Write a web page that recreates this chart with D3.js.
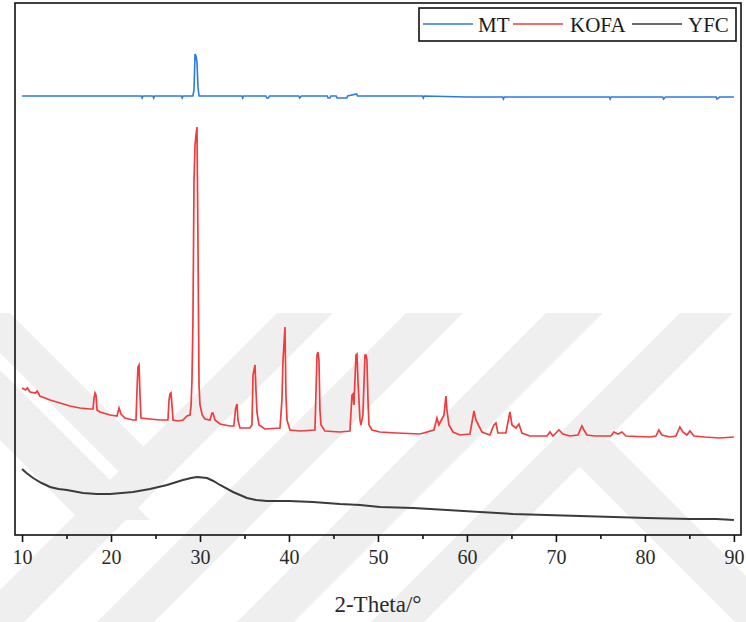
<!DOCTYPE html>
<html>
<head>
<meta charset="utf-8">
<script src="https://cdn.jsdelivr.net/npm/d3@7"></script>
<style>
  html, body { margin: 0; padding: 0; background: #fff; }
  svg { display: block; }
</style>
</head>
<body>
<svg id="chart" width="746" height="622"></svg>
<script>
// XRD patterns: [2θ (degrees), intensity (a.u., stacked offsets included)]
const mtPattern = [
  [10, 439], [23.4, 439], [23.5, 437], [23.6, 439], [24.7, 439], [24.8, 437], [24.9, 439],
  [27.9, 439], [28.0, 437], [28.1, 439], [29.2, 439], [29.33, 445], [29.44, 481], [29.55, 479],
  [29.66, 473], [29.78, 447], [29.9, 439], [34.7, 439], [34.8, 437], [34.9, 439], [37.4, 439],
  [37.5, 437], [37.7, 437], [37.8, 439], [41.1, 439], [41.2, 437], [41.4, 439], [44.3, 439],
  [44.4, 437], [44.6, 437], [44.7, 439], [45.3, 439], [45.4, 437], [46.5, 437], [46.6, 439],
  [47.6, 441], [47.7, 439], [55.0, 439], [55.1, 437], [55.2, 439], [60.0, 438], [64.0, 438],
  [64.1, 436], [64.2, 438], [70.0, 438], [76.0, 438], [76.1, 436], [76.2, 438], [82.0, 438],
  [82.1, 436], [82.3, 438], [88.0, 438], [88.1, 436], [88.4, 438], [90, 438]
];

const kofaPattern = [
  [10, 147], [10.4, 145], [10.6, 147], [10.9, 143], [11.5, 142], [11.7, 144], [12.0, 139],
  [13.15, 135], [14.27, 132], [15.39, 129], [16.5, 127], [17.64, 126], [17.98, 126],
  [18.09, 137], [18.2, 142], [18.31, 140], [18.43, 125], [18.76, 123], [19.89, 120],
  [20.67, 119], [20.9, 127], [21.12, 121], [21.57, 117], [22.47, 115], [22.81, 115],
  [22.92, 145], [23.03, 168], [23.15, 170], [23.26, 140], [23.37, 117], [24.38, 116],
  [25.5, 115], [26.4, 115], [26.52, 135], [26.63, 141], [26.74, 142], [26.85, 130],
  [26.97, 115], [27.53, 114], [28.09, 115], [28.54, 119], [28.88, 120], [29.0, 130],
  [29.1, 155], [29.21, 215], [29.33, 355], [29.44, 390], [29.55, 400], [29.66, 408],
  [29.78, 285], [29.89, 150], [30.0, 130], [30.25, 120], [30.56, 116], [31.12, 115],
  [31.35, 122], [31.46, 122], [31.69, 115], [32.25, 111], [33.37, 109], [33.8, 109],
  [34.0, 126], [34.16, 131], [34.27, 115], [34.49, 107], [35.6, 107], [35.84, 110],
  [35.96, 160], [36.18, 170], [36.29, 145], [36.4, 123], [36.63, 110], [37.3, 106],
  [38.99, 107], [39.21, 135], [39.33, 175], [39.55, 208], [39.66, 140], [39.78, 115],
  [40.11, 105], [41.24, 104], [42.92, 105], [43.15, 180], [43.26, 183], [43.37, 175],
  [43.48, 125], [43.6, 110], [44.04, 104], [45.73, 103], [46.85, 104], [47.08, 140],
  [47.19, 141], [47.3, 130], [47.53, 180], [47.64, 181], [47.75, 155], [47.98, 115],
  [48.09, 110], [48.31, 120], [48.54, 180], [48.65, 180], [48.76, 175], [48.88, 135],
  [48.99, 110], [49.33, 105], [50.22, 103], [52.13, 102], [54.72, 101], [56.29, 105],
  [56.63, 117], [56.85, 110], [57.42, 120], [57.64, 139], [57.75, 125], [57.98, 110],
  [58.43, 103], [59.21, 100], [60.34, 101], [60.79, 124], [61.01, 115], [61.35, 109],
  [61.69, 103], [62.58, 100], [63.03, 110], [63.26, 112], [63.48, 102], [64.38, 102],
  [64.83, 123], [65.06, 110], [65.51, 107], [65.84, 111], [66.18, 102], [67.08, 99],
  [68.99, 99], [69.33, 103], [69.66, 99], [70.34, 105], [70.79, 101], [71.57, 99],
  [72.47, 100], [72.92, 109], [73.15, 105], [73.48, 100], [74.38, 99], [76.18, 99],
  [76.52, 103], [76.97, 101], [77.42, 103], [77.87, 99], [80.56, 98], [81.24, 99],
  [81.57, 105], [81.91, 100], [82.81, 98], [83.48, 99], [83.93, 108], [84.27, 103],
  [84.72, 100], [85.06, 104], [85.51, 99], [86.74, 98], [88.43, 97], [90, 98]
];

const yfcPattern = [
  [10, 66], [10.5, 62], [11.24, 57], [12.2, 52], [13.15, 48], [14.1, 46], [15.06, 45],
  [16.85, 42], [18.4, 41], [19.89, 41], [21.2, 42], [22.47, 43], [24.38, 46], [26.29, 50],
  [28.09, 55], [29.0, 57], [29.66, 58], [30.79, 57], [31.5, 54], [32.25, 50], [33.71, 43],
  [35.28, 37], [36.3, 35], [37.53, 34], [40.0, 34], [42.7, 33], [45.73, 31], [48.0, 30],
  [50.22, 28], [54.0, 27], [57.75, 25], [61.5, 23], [65.17, 21], [68.9, 20], [72.7, 19],
  [76.5, 18], [80.22, 17], [85.06, 16], [88.0, 16], [90, 15]
];

const seriesNames = ["MT", "KOFA", "YFC"];
const seriesColors = ["#2c7be5", "#f03c3c", "#3b3b3b"];
const xTickValues = [10, 20, 30, 40, 50, 60, 70, 80, 90];
const xMinorTicks = [15, 25, 35, 45, 55, 65, 75, 85];
const xTitle = "2-Theta/°";

const serif = "'Liberation Serif', 'Times New Roman', serif";
const svg = d3.select("#chart");
const plot = { left: 15, right: 741, top: 3, bottom: 535 };

// faint diagonal backdrop bands
const bands = [
  { d: "/", a: 590, b: 646, y0: 313, y1: 622 },
  { d: "/", a: 719, b: 776, y0: 313, y1: 622 },
  { d: "/", a: 859, b: 916, y0: 313, y1: 622 },
  { d: "/", a: 993, b: 1046, y0: 313, y1: 622 },
  { d: "\\", a: -353, b: -303, y0: 313, y1: 475 },
  { d: "\\", a: -440, b: -370, y0: 357, y1: 520 },
  { d: "\\", a: 113, b: 170, y0: 440, y1: 622 }
];
svg.append("g").selectAll("polygon").data(bands).join("polygon")
  .attr("fill", "#efefef")
  .attr("points", b => {
    const p = b.d === "/"
      ? [[b.a - b.y0, b.y0], [b.b - b.y0, b.y0], [b.b - b.y1, b.y1], [b.a - b.y1, b.y1]]
      : [[b.a + b.y0, b.y0], [b.b + b.y0, b.y0], [b.b + b.y1, b.y1], [b.a + b.y1, b.y1]];
    return p.map(q => q.join(",")).join(" ");
  });

const x = d3.scaleLinear().domain([9.21, 90.8]).range([plot.left, plot.right]);
const y = d3.scaleLinear().domain([0, 532]).range([plot.bottom, plot.top]);

const line = d3.line().x(d => x(d[0])).y(d => y(d[1]));
const patterns = [mtPattern, kofaPattern, yfcPattern];
const widths = [1.6, 1.7, 2];

svg.append("g").selectAll("path").data(patterns).join("path")
  .attr("d", line)
  .attr("fill", "none")
  .attr("stroke", (d, i) => seriesColors[i])
  .attr("stroke-width", (d, i) => widths[i])
  .attr("stroke-linejoin", "miter");

// frame
svg.append("rect")
  .attr("x", plot.left).attr("y", plot.top)
  .attr("width", plot.right - plot.left).attr("height", plot.bottom - plot.top)
  .attr("fill", "none").attr("stroke", "#111").attr("stroke-width", 1.6);

// bottom axis: major ticks with labels, minor ticks between
const axisMajor = d3.axisBottom(x).tickValues(xTickValues).tickSize(7).tickPadding(8)
  .tickFormat(d3.format("d"));
const gx = svg.append("g").attr("transform", `translate(0,${plot.bottom})`).call(axisMajor)
  .attr("font-family", serif).attr("font-size", 20);
gx.select(".domain").remove();
gx.selectAll(".tick line").attr("stroke", "#111").attr("stroke-width", 1.6);
gx.selectAll(".tick text")
  .attr("fill", "#2a2a2a")
  .style("font-family", serif)
  .style("font-size", "20px");

const axisMinor = d3.axisBottom(x).tickValues(xMinorTicks).tickSize(4).tickFormat("");
const gm = svg.append("g").attr("transform", `translate(0,${plot.bottom})`).call(axisMinor);
gm.select(".domain").remove();
gm.selectAll(".tick line").attr("stroke", "#111").attr("stroke-width", 1.6);

svg.append("text")
  .attr("x", (plot.left + plot.right) / 2)
  .attr("y", 612)
  .attr("text-anchor", "middle")
  .attr("fill", "#2a2a2a")
  .style("font-family", serif)
  .style("font-size", "23px")
  .text(xTitle);

// legend
const legend = svg.append("g");
legend.append("rect")
  .attr("x", 419).attr("y", 8).attr("width", 317).attr("height", 33)
  .attr("fill", "#fff").attr("stroke", "#111").attr("stroke-width", 1.6);
const legendLineX = [423, 513, 632];
const legendTextX = [478, 570, 688];
seriesNames.forEach((name, i) => {
  legend.append("line")
    .attr("x1", legendLineX[i]).attr("x2", legendLineX[i] + 50)
    .attr("y1", 24).attr("y2", 24)
    .attr("stroke", seriesColors[i]).attr("stroke-width", 1.6);
  legend.append("text")
    .attr("x", legendTextX[i]).attr("y", 32)
    .attr("fill", "#1a1a1a")
    .style("font-family", serif)
    .style("font-size", "21px")
    .text(name);
});
</script>
</body>
</html>
